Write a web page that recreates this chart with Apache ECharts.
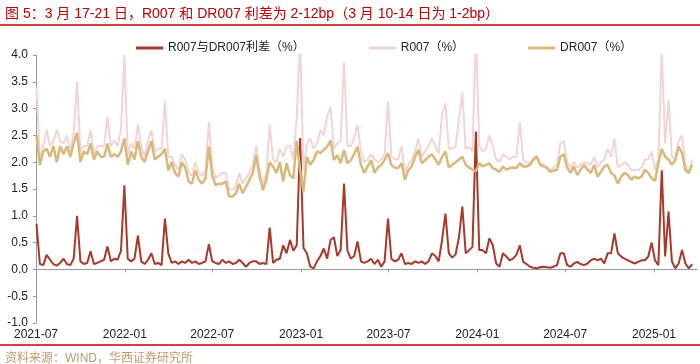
<!DOCTYPE html>
<html><head><meta charset="utf-8">
<script src="https://cdn.jsdelivr.net/npm/echarts@6/dist/echarts.min.js"></script>
<style>html,body{margin:0;padding:0;background:#fff}#c{width:700px;height:364px}</style>
</head><body><div id="c"></div>
<script>
// Weekly observations (Fridays) starting 2021-07-02
const startDate = [2021, 6, 2];
const tickLabels = ['2021-07','2022-01','2022-07','2023-01','2023-07','2024-01','2024-07','2025-01'];
const seriesNames = ['R007与DR007利差（%）', 'R007（%）', 'DR007（%）'];
const titleText = '图 5：3 月 17-21 日，R007 和 DR007 利差为 2-12bp（3 月 10-14 日为 1-2bp）';
const sourceText = '资料来源：WIND，华西证券研究所';
const yTicks = [-1.0, -0.5, 0.0, 0.5, 1.0, 1.5, 2.0, 2.5, 3.0, 3.5, 4.0];

const spread = [
0.85,0.1,0.08,0.27,0.18,0.1,0.07,0.12,0.2,0.1,
0.08,0.2,1.0,0.15,0.1,0.12,0.34,0.1,0.12,0.15,
0.18,0.43,0.15,0.2,0.18,0.35,1.57,0.2,0.15,0.2,
0.63,0.15,0.1,0.18,0.3,0.1,0.12,0.08,0.95,0.3,
0.12,0.15,0.1,0.15,0.12,0.18,0.12,0.15,0.1,0.12,
0.15,0.47,0.15,0.12,0.1,0.18,0.12,0.15,0.1,0.12,
0.18,0.12,0.05,0.12,0.15,0.15,0.1,0.12,0.1,0.78,
0.12,0.18,0.2,0.45,0.3,0.55,0.35,0.45,2.45,0.4,
0.3,0.05,0.02,0.15,0.25,0.39,0.2,0.55,0.6,0.25,
0.36,1.6,0.35,0.2,0.25,0.52,0.15,0.12,0.15,0.2,
0.1,0.18,0.05,0.15,0.95,0.2,0.15,0.18,0.3,0.1,
0.12,0.1,0.15,0.12,0.15,0.1,0.15,0.3,0.25,0.15,
0.55,1.04,0.3,0.22,0.28,0.6,1.17,0.3,0.36,0.42,
2.57,0.36,0.36,0.3,0.58,0.45,0.11,0.05,0.3,0.24,
0.17,0.2,0.27,0.45,0.14,0.1,0.05,0.03,0.02,0.04,
0.05,0.04,0.03,0.05,0.08,0.3,0.3,0.08,0.05,0.11,
0.14,0.1,0.08,0.11,0.17,0.2,0.17,0.2,0.11,0.3,
0.3,0.67,0.3,0.24,0.2,0.17,0.14,0.11,0.14,0.17,
0.17,0.24,0.5,0.17,0.08,1.85,0.24,1.08,0.15,0.02,
0.11,0.36,0.11,0.02,0.1
];

const r007 = [
3.4,2.05,2.3,2.6,2.3,2.4,2.6,2.4,2.35,2.5,
2.2,2.55,3.5,2.2,2.3,2.3,2.6,2.15,2.3,2.3,
2.3,2.85,2.3,2.4,2.3,2.6,4.0,2.15,2.35,2.25,
2.7,2.3,2.1,2.4,2.6,2.2,2.25,2.25,3.15,2.1,
2.1,1.95,1.85,2.15,2.05,1.8,1.75,2.0,1.8,1.75,
1.85,2.75,1.9,1.7,1.75,1.8,1.8,1.5,1.48,1.55,
1.8,1.6,1.7,1.8,1.95,2.3,1.85,1.6,1.8,2.7,
2.05,2.0,2.25,2.1,2.3,2.3,2.05,2.85,4.3,1.85,
2.35,2.44,2.25,2.35,2.6,2.5,2.85,3.04,2.25,2.35,
2.4,3.87,2.3,2.3,2.45,2.7,2.2,2.0,2.05,2.15,
2.05,2.0,2.05,2.15,3.13,2.1,2.05,2.05,2.3,1.8,
1.95,2.05,2.2,2.44,2.1,2.2,2.3,2.45,2.3,2.15,
2.9,3.1,2.25,2.25,2.3,2.8,3.3,2.25,2.28,2.2,
4.4,2.3,2.2,2.25,2.5,2.3,2.05,2.0,2.15,2.1,
2.05,2.1,2.1,2.75,2.05,2.0,1.98,2.05,2.12,1.98,
1.95,1.92,1.85,1.9,1.95,2.35,2.4,2.0,1.9,2.0,
1.9,1.95,2.0,1.98,1.95,2.1,1.9,2.0,2.05,2.25,
2.1,2.44,1.9,1.95,2.0,1.95,1.85,1.85,1.85,1.9,
2.05,2.05,2.2,1.85,2.05,4.1,2.35,3.16,2.1,2.05,
2.4,2.5,1.95,1.82,2.05
];

const dr007 = [
2.5,1.95,2.2,2.25,2.1,2.3,2.0,2.3,2.15,2.3,
2.1,2.35,2.55,2.0,2.2,2.15,2.35,2.05,2.2,2.1,
2.1,2.35,2.1,2.15,2.1,2.2,2.45,1.95,2.2,2.05,
2.4,2.1,2.0,2.2,2.4,2.05,2.1,2.15,2.25,1.85,
2.0,1.8,1.73,2.0,1.9,1.64,1.6,1.85,1.67,1.6,
1.7,2.29,1.75,1.57,1.6,1.6,1.64,1.36,1.36,1.42,
1.6,1.42,1.54,1.67,1.8,2.13,1.73,1.48,1.67,2.0,
1.92,1.8,2.0,1.64,1.98,1.76,1.7,2.4,1.85,1.45,
2.1,1.95,2.04,2.2,2.17,2.23,2.29,2.41,2.04,2.13,
1.98,2.23,1.98,2.04,2.15,2.29,1.95,1.8,1.92,2.04,
1.8,1.9,1.95,2.04,2.17,1.95,1.9,1.89,1.98,1.67,
1.85,1.92,2.1,2.23,1.98,2.04,2.1,2.15,2.05,1.95,
2.1,2.2,1.9,1.95,2.0,2.05,2.1,1.95,1.9,1.86,
1.83,1.98,1.92,1.95,1.98,1.89,1.86,1.82,1.92,1.86,
1.89,1.9,1.89,1.98,1.92,1.92,1.95,2.05,2.1,1.95,
1.92,1.89,1.82,1.84,1.86,2.1,2.15,1.9,1.8,1.92,
1.76,1.86,1.95,1.86,1.8,1.95,1.73,1.82,1.92,1.95,
1.8,1.75,1.6,1.73,1.8,1.76,1.67,1.73,1.7,1.73,
1.86,1.8,1.7,1.65,1.98,2.25,2.1,2.05,1.95,2.04,
2.29,2.17,1.85,1.8,1.95
];

const DAY = 86400000;
const t0 = Date.UTC(startDate[0], startDate[1], startDate[2]);
const dates = spread.map((_, i) => t0 + i * 7 * DAY);
const tickValues = tickLabels.map(s => Date.UTC(+s.slice(0, 4), +s.slice(5) - 1, 1));
const xMin = Date.UTC(2021, 6, 1);
const xMax = Date.UTC(2025, 2, 31);
const pair = arr => arr.map((v, i) => [dates[i], v]);
const FONT = '"Liberation Sans", "Noto Sans CJK SC", sans-serif';

const chart = echarts.init(document.getElementById('c'), null, {renderer: 'canvas'});
chart.setOption({
  animation: false,
  backgroundColor: '#fff',
  textStyle: {fontFamily: FONT},
  title: [
    {text: titleText, left: 0, top: 2, textStyle: {fontSize: 14, fontWeight: 'normal', color: '#C00000', fontFamily: FONT}},
    {text: sourceText, left: 0, top: 348, textStyle: {fontSize: 12, fontWeight: 'normal', color: '#C19A68', fontFamily: FONT}}
  ],
  graphic: [
    {type: 'line', shape: {x1: 0, y1: 25, x2: 700, y2: 25}, style: {stroke: '#C00000', lineWidth: 1.5}},
    {type: 'line', shape: {x1: 0, y1: 345, x2: 700, y2: 345}, style: {stroke: '#C00000', lineWidth: 1.5}}
  ],
  legend: {
    left: 131, top: 37, itemGap: 64, itemWidth: 27, itemHeight: 3, icon: 'rect',
    textStyle: {fontSize: 12, color: '#222', fontFamily: FONT},
    data: seriesNames
  },
  grid: {left: 36, right: 3, top: 55, bottom: 41, containLabel: false},
  xAxis: [
    {
      type: 'value', min: xMin, max: xMax, position: 'bottom',
      axisLine: {show: false, onZero: false},
      axisTick: {show: false},
      splitLine: {show: false},
      axisLabel: {
        customValues: tickValues, margin: 6, fontSize: 12, color: '#222', fontFamily: FONT,
        formatter: v => { const i = tickValues.indexOf(v); return i >= 0 ? tickLabels[i] : ''; }
      }
    },
    {
      type: 'value', min: xMin, max: xMax, position: 'bottom',
      axisLine: {show: true, onZero: true, lineStyle: {color: '#999', width: 1}},
      axisTick: {show: true, customValues: tickValues, length: 3, lineStyle: {color: '#999'}},
      axisLabel: {show: false},
      splitLine: {show: false}
    }
  ],
  yAxis: {
    type: 'value', min: yTicks[0], max: yTicks[yTicks.length - 1], interval: 0.5,
    axisLine: {show: true, lineStyle: {color: '#999'}},
    axisTick: {show: true, length: 3, lineStyle: {color: '#999'}},
    splitLine: {show: false},
    axisLabel: {margin: 8, fontSize: 12, color: '#222', fontFamily: FONT, formatter: v => v.toFixed(1)}
  },
  series: [
    {name: seriesNames[0], type: 'line', xAxisIndex: 1, data: pair(spread), symbol: 'none', showSymbol: false,
      color: '#A8392B', lineStyle: {width: 2, color: '#A8392B'}},
    {name: seriesNames[1], type: 'line', xAxisIndex: 1, data: pair(r007), symbol: 'none', showSymbol: false,
      color: '#F3D4D4', lineStyle: {width: 2, color: '#F3D4D4'}},
    {name: seriesNames[2], type: 'line', xAxisIndex: 1, data: pair(dr007), symbol: 'none', showSymbol: false,
      color: '#DAB87C', lineStyle: {width: 2.5, color: '#DAB87C'}}
  ]
});
</script></body></html>
